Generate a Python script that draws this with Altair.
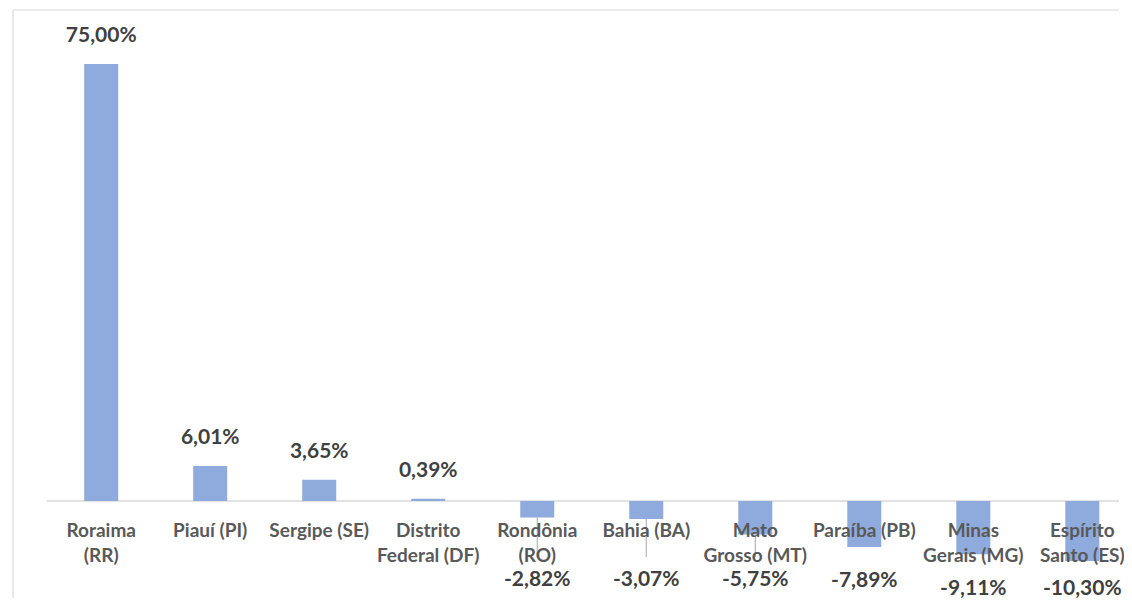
import altair as alt
import pandas as pd

states = ["Roraima\n(RR)", "Piauí (PI)", "Sergipe (SE)", "Distrito\nFederal (DF)",
          "Rondônia\n(RO)", "Bahia (BA)", "Mato\nGrosso (MT)", "Paraíba (PB)",
          "Minas\nGerais (MG)", "Espírito\nSanto (ES)"]
values = [75.00, 6.01, 3.65, 0.39, -2.82, -3.07, -5.75, -7.89, -9.11, -10.30]
leader = [0, 0, 0, 0, 1, 1, 1, 0, 0, 0]
title_text = "Gráfico 1 – Variação semanal de novos óbitos (%)"

df = pd.DataFrame({
    "state": states,
    "idx": list(range(len(states))),
    "value": values,
    "leader": leader,
    "zero": [0.0] * len(states),
    "label": [f"{v:.2f}".replace(".", ",") + "%" for v in values],
})

BAR = "#8FAADC"
GRID = "#D9D9D9"

W, H = 1116, 588
XMIN = -0.809
XMAX = XMIN + W / 110.0
YMAX = 84.27
YMIN = YMAX - H / 5.827
xscale = alt.Scale(domain=[XMIN, XMAX], nice=False, zero=False)
yscale = alt.Scale(domain=[YMIN, YMAX], nice=False, zero=False)
x = alt.X("idx:Q", scale=xscale, axis=None)

base = alt.Chart(df).transform_calculate(
    pos=f"datum.value > 0 ? datum.value + 4.8 : max(min(datum.value - 5.9, -13.5), {YMIN + 1.6})"
)

# chart-area border (top and left edges visible)
frame = pd.DataFrame({"x0": [XMIN, XMIN], "x1": [XMAX, XMIN],
                      "y0": [YMAX, YMIN], "y1": [YMAX, YMAX]})
border = alt.Chart(frame).mark_rule(color=GRID, strokeWidth=1.2).encode(
    x=alt.X("x0:Q", scale=xscale, axis=None), x2="x1:Q",
    y=alt.Y("y0:Q", scale=yscale, axis=None), y2="y1:Q",
)

zero_line = alt.Chart(pd.DataFrame({"x0": [-0.5], "x1": [XMAX], "y0": [0.0]})).mark_rule(
    color=GRID, strokeWidth=1.5
).encode(
    x=alt.X("x0:Q", scale=xscale, axis=None),
    x2="x1:Q",
    y=alt.Y("y0:Q", scale=yscale, axis=None),
)

bars = base.mark_bar(color=BAR, size=34).encode(
    x=x,
    y=alt.Y("value:Q", scale=yscale, axis=None),
    y2="zero:Q",
)

leaders = base.transform_filter("datum.leader == 1").transform_calculate(
    lend="datum.pos + 3.9"
).mark_rule(color="#A6A6A6", strokeWidth=1).encode(
    x=x,
    y=alt.Y("value:Q", scale=yscale, axis=None),
    y2="lend:Q",
)

cat_text = base.mark_text(
    font="Lato", fontSize=19, fontWeight="bold", color="#595959",
    baseline="top", align="center", dy=21, lineBreak="\n", lineHeight=25
).encode(
    x=x,
    y=alt.Y("zero:Q", scale=yscale, axis=None),
    text="state:N",
)

val_text = base.mark_text(
    font="Lato", fontSize=21, fontWeight="bold", color="#404040",
    baseline="middle", align="center"
).encode(
    x=x,
    y=alt.Y("pos:Q", scale=yscale, axis=None),
    text="label:N",
)

chart = alt.layer(border, zero_line, bars, leaders, cat_text, val_text).properties(
    width=W, height=H,
    title=alt.TitleParams(title_text, font="Liberation Sans", fontSize=29, fontWeight="bold",
                          color="#000000", anchor="start", baseline="alphabetic", offset=1),
    autosize=alt.AutoSizeParams(type="none"),
    padding={"left": 0, "top": 2, "right": 0, "bottom": 0},
).configure_view(stroke=None)

chart.save("out.html", embed_options={"renderer": "svg", "actions": False})
